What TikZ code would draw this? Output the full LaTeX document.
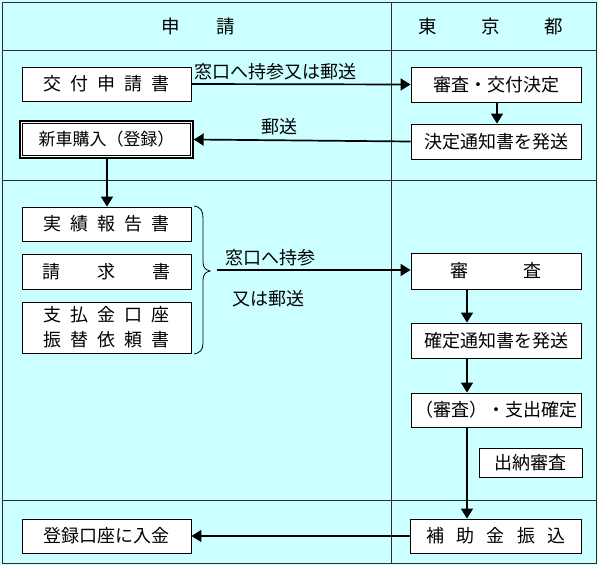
\documentclass[tikz,border=0pt]{standalone}
\usepackage{fontspec}
\setmainfont{Noto Sans CJK JP}
\usetikzlibrary{arrows.meta}
\definecolor{bgcyan}{RGB}{204,255,255}
\definecolor{gridgray}{RGB}{45,45,45}
\newcommand{\jg}[1]{\hspace{#1em}}
\begin{document}
\begin{tikzpicture}[x=1pt,y=-1pt,
  box/.style={draw=black, line width=0.9pt, fill=white, inner sep=0pt,
    font=\fontsize{18}{25}\selectfont, align=center},
  lbl/.style={inner sep=0pt, font=\fontsize{18}{21}\selectfont},
  hdr/.style={inner sep=0pt, font=\fontsize{18.5}{21}\selectfont},
  grid/.style={draw=gridgray, line width=0.9pt},
  arr/.style={draw=black, line width=1.7pt, -{Triangle[length=10pt,width=12pt]}},
  bracepath/.style={draw=black, line width=0.8pt}]
\useasboundingbox (0,0) rectangle (598,565);
\fill[bgcyan] (0,0) rectangle (598,565);
% grid
\draw[grid] (2,2) rectangle (596,563);
\draw[grid] (2,50) -- (596,50);
\draw[grid] (2,180) -- (596,180);
\draw[grid] (2,500) -- (596,500);
\draw[grid] (391,2) -- (391,563);
% headers
\node[hdr] (h1) at (198,26) {申\jg{2.0}請};
\node[hdr] (h2) at (491,26) {東\jg{2.4}京\jg{2.4}都};
% boxes
\node[box, minimum width=169pt, minimum height=34pt] (kofu) at (106.5,84) {交\jg{0.5}付\jg{0.5}申\jg{0.5}請\jg{0.5}書};
\node[box, minimum width=173pt, minimum height=37pt, line width=1.4pt, font=\fontsize{17}{21}\selectfont] (shinsha) at (106.5,139.5) {新車購入（登録）};
\draw[line width=0.8pt] ([shift={(3,3)}]shinsha.north west) rectangle ([shift={(-3,-3)}]shinsha.south east);
\node[box, minimum width=170pt, minimum height=35pt] (kettei) at (496,84.5) {審査・交付決定};
\node[box, minimum width=170pt, minimum height=35pt] (tsuchi) at (496,141.5) {決定通知書を発送};
\node[box, minimum width=169pt, minimum height=34pt] (jisseki) at (106.5,224) {実\jg{0.5}績\jg{0.5}報\jg{0.5}告\jg{0.5}書};
\node[box, minimum width=169pt, minimum height=35pt] (seikyu) at (106.5,271.5) {請\jg{2.05}求\jg{2.05}書};
\node[box, minimum width=169pt, minimum height=51pt, font=\fontsize{18}{25}\selectfont] (shiharai) at (106.5,327.5) {支\jg{0.5}払\jg{0.5}金\jg{0.5}口\jg{0.5}座\\振\jg{0.5}替\jg{0.5}依\jg{0.5}頼\jg{0.5}書};
\node[box, minimum width=170pt, minimum height=36pt] (shinsa) at (496,271) {審\jg{3.05}査};
\node[box, minimum width=170pt, minimum height=35pt] (kakutei) at (496,340.5) {確定通知書を発送};
\node[box, minimum width=170pt, minimum height=34pt] (shishutsu) at (496,410) {（審査）・支出確定};
\node[box, minimum width=103pt, minimum height=29pt] (suito) at (530.5,462.5) {出納審査};
\node[box, minimum width=171pt, minimum height=34pt] (furikomi) at (496,536) {補\jg{0.67}助\jg{0.67}金\jg{0.67}振\jg{0.67}込};
\node[box, minimum width=169pt, minimum height=34pt] (nyukin) at (106.5,536) {登録口座に入金};
% labels
\node[lbl] (l1) at (275,72) {窓口へ持参又は郵送};
\node[lbl] (l2) at (279,127) {郵送};
\node[lbl] (l3) at (270,258) {窓口へ持参};
\node[lbl] (l4) at (268,299) {又は郵送};
% brace
\coordinate (btip) at (210,271);
\coordinate (bstart) at (217,270);
\draw[bracepath] (194,206) .. controls (201,207) and (203,211) .. (203,218) -- (203,262)
  .. controls (203,268) and (206,270) .. (btip)
  .. controls (206,272) and (203,274) .. (203,280) -- (203,343)
  .. controls (203,350) and (200,353) .. (194,354);
% columns
\coordinate (colA) at (497,0);
\coordinate (colB) at (467,0);
\coordinate (colC) at (107,0);
% arrows
\draw[arr] (kofu.east) -- (kettei.west);
\draw[arr] (kettei.south -| colA) -- (tsuchi.north -| colA);
\draw[arr] (tsuchi.west) -- (shinsha.east);
\draw[arr] (shinsha.south -| colC) -- (jisseki.north -| colC);
\draw[arr] (bstart) -- (shinsa.west |- bstart);
\draw[arr] (shinsa.south -| colB) -- (kakutei.north -| colB);
\draw[arr] (kakutei.south -| colB) -- (shishutsu.north -| colB);
\draw[arr] (shishutsu.south -| colB) -- (furikomi.north -| colB);
\draw[arr] (furikomi.west) -- (nyukin.east);
\end{tikzpicture}
\end{document}
